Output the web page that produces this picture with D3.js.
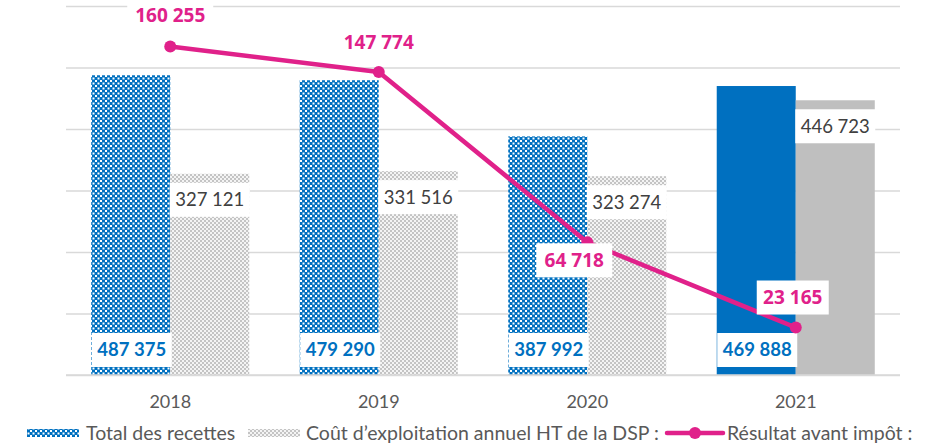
<!DOCTYPE html>
<html><head><meta charset="utf-8">
<script src="https://cdn.jsdelivr.net/npm/d3@7/dist/d3.min.js"></script>
<style>html,body{margin:0;padding:0;background:#fff;} svg{display:block;}</style>
</head><body>
<svg id="chart" width="925" height="446"></svg>
<script>
const years = ["2018", "2019", "2020", "2021"];
const recettes = [487375, 479290, 387992, 469888];
const couts = [327121, 331516, 323274, 446723];
const resultat = [160255, 147774, 64718, 23165];
const legendLabels = ["Total des recettes", "Coût d’exploitation annuel HT de la DSP :", "Résultat avant impôt :"];
const yTicks = [0, 100000, 200000, 300000, 400000, 500000, 600000];
const fmt = v => d3.format(",")(v).replace(/,/g, " ");

(function () {
const svg = d3.select("#chart");
const pLeft = 66, pRight = 900, pTop = 6, pBottom = 375;

const defs = svg.append("defs");
const pb = defs.append("pattern").attr("id", "pBlue").attr("width", 5).attr("height", 5).attr("patternUnits", "userSpaceOnUse");
pb.append("rect").attr("width", 5).attr("height", 5).attr("fill", "#0070C0");
pb.append("rect").attr("x", 0).attr("y", 0).attr("width", 2).attr("height", 2).attr("fill", "#ffffff");
pb.append("rect").attr("x", 2.5).attr("y", 2.5).attr("width", 2).attr("height", 2).attr("fill", "#ffffff");
const pg = defs.append("pattern").attr("id", "pGray").attr("width", 4).attr("height", 4).attr("patternUnits", "userSpaceOnUse");
pg.append("rect").attr("width", 4).attr("height", 4).attr("fill", "#F4F4F4");
pg.append("rect").attr("x", 0).attr("y", 0).attr("width", 2).attr("height", 2).attr("fill", "#C4C4C4");
pg.append("rect").attr("x", 2).attr("y", 2).attr("width", 2).attr("height", 2).attr("fill", "#C4C4C4");

const x = d3.scaleBand().domain(years).range([pLeft, pRight]).paddingInner(0.242).paddingOuter(0.121);
const xs = d3.scaleBand().domain([0, 1]).range([0, x.bandwidth()]);
const y = d3.scaleLinear().domain([0, 600000]).range([pBottom, pTop]);
const y2 = d3.scaleLinear().domain([0, 180000]).range([pBottom, pTop]);

const grid = svg.append("g").attr("class", "grid")
  .attr("transform", `translate(${pLeft},0)`)
  .call(d3.axisLeft(y).tickValues(yTicks).tickSize(-(pRight - pLeft)).tickFormat(""));
grid.select(".domain").remove();
grid.selectAll(".tick line").attr("stroke", "#D9D9D9").attr("stroke-width", 1.5);

const solid = i => i === 3;
const g = svg.append("g");
years.forEach((yr, i) => {
  const x0 = x(yr);
  g.append("rect").attr("x", x0 + xs(0)).attr("width", xs.bandwidth())
    .attr("y", y(recettes[i])).attr("height", y(0) - y(recettes[i]))
    .attr("fill", solid(i) ? "#0070C0" : "url(#pBlue)");
  g.append("rect").attr("x", x0 + xs(1)).attr("width", xs.bandwidth())
    .attr("y", y(couts[i])).attr("height", y(0) - y(couts[i]))
    .attr("fill", solid(i) ? "#BFBFBF" : "url(#pGray)");
});

const xa = svg.append("g").attr("transform", `translate(0,${pBottom})`)
  .call(d3.axisBottom(x).tickSize(0).tickPadding(20));
xa.select(".domain").attr("stroke", "#D9D9D9").attr("stroke-width", 1.5)
  .attr("d", `M${pLeft},0H${pRight}`);
xa.selectAll("text").attr("font-family", "Lato, 'Open Sans', sans-serif").attr("font-size", 18).attr("fill", "#595959");

function boxLabel(cx, cy, w, h, text, color, weight, size) {
  const gg = svg.append("g");
  gg.append("rect").attr("x", cx - w / 2).attr("y", cy - h / 2).attr("width", w).attr("height", h).attr("fill", "#fff");
  gg.append("text").attr("x", cx).attr("y", cy).attr("dy", "0.35em").attr("text-anchor", "middle")
    .attr("font-family", "Lato, 'Open Sans', sans-serif").attr("font-size", size).attr("font-weight", weight)
    .attr("fill", color).text(text);
}
years.forEach((yr, i) => {
  const bx = x(yr) + xs(0) + xs.bandwidth() / 2;
  boxLabel(bx + 1, 350, 80, 34, fmt(recettes[i]), "#0070C0", "bold", 18.5);
  const gx = x(yr) + xs(1) + xs.bandwidth() / 2;
  boxLabel(gx, y(couts[i]) + 26, 80, 34, fmt(couts[i]), "#404040", "normal", 18.5);
});

const pink = "#E0218A";
const pts = years.map((yr, i) => [x(yr) + x.bandwidth() / 2, y2(resultat[i])]);
svg.append("path").attr("d", d3.line()(pts)).attr("fill", "none").attr("stroke", pink).attr("stroke-width", 4.5).attr("stroke-linejoin", "round");
svg.selectAll("circle.pt").data(pts).join("circle").attr("class", "pt")
  .attr("cx", d => d[0]).attr("cy", d => d[1]).attr("r", 6).attr("fill", pink);
const labelOffsets = [[0, -31], [0, -30], [-13, 18], [-3, -30]];
const labelBoxW = [86, 0, 76, 72];
pts.forEach((p, i) => {
  const cx = p[0] + labelOffsets[i][0], cy = p[1] + labelOffsets[i][1];
  if (labelBoxW[i] > 0) svg.append("rect").attr("x", cx - labelBoxW[i] / 2).attr("y", cy - 17).attr("width", labelBoxW[i]).attr("height", 34).attr("fill", "#fff");
  svg.append("text").attr("x", cx).attr("y", cy).attr("dy", "0.35em").attr("text-anchor", "middle")
    .attr("font-family", "'Liberation Sans Narrow', 'Open Sans', sans-serif").attr("font-size", 19).attr("font-weight", "bold")
    .attr("fill", pink).text(fmt(resultat[i]));
});

const ly = 433;
const lfont = "Lato, 'Open Sans', sans-serif";
const lsize = 19.5;
const leg = svg.append("g");
leg.append("rect").attr("x", 27).attr("y", ly - 4).attr("width", 52).attr("height", 8).attr("fill", "url(#pBlue)");
leg.append("text").attr("x", 86).attr("y", ly).attr("dy", "0.35em").attr("font-family", lfont).attr("font-size", lsize).attr("fill", "#595959").text(legendLabels[0]);
leg.append("rect").attr("x", 248).attr("y", ly - 4).attr("width", 52).attr("height", 8).attr("fill", "url(#pGray)");
leg.append("text").attr("x", 306).attr("y", ly).attr("dy", "0.35em").attr("font-family", lfont).attr("font-size", lsize).attr("fill", "#595959").text(legendLabels[1]);
leg.append("line").attr("x1", 667).attr("x2", 723).attr("y1", ly).attr("y2", ly).attr("stroke", pink).attr("stroke-width", 4.5).attr("stroke-linecap", "round");
leg.append("circle").attr("cx", 695).attr("cy", ly).attr("r", 6).attr("fill", pink);
leg.append("text").attr("x", 727).attr("y", ly).attr("dy", "0.35em").attr("font-family", lfont).attr("font-size", lsize).attr("fill", "#595959").text(legendLabels[2]);
})();
</script>
</body></html>
